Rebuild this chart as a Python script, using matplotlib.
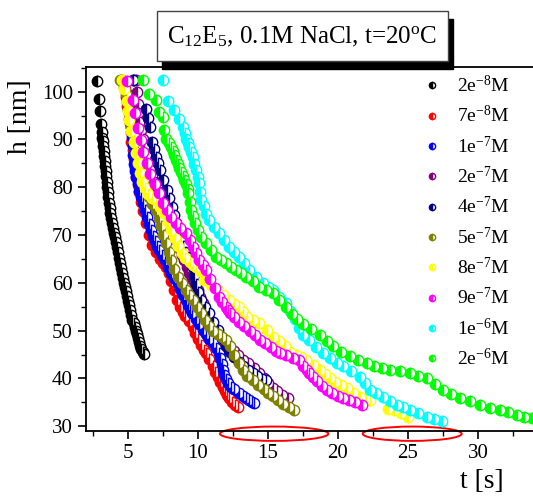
import matplotlib as mpl

mpl.use("Agg")
import matplotlib.pyplot as plt
from matplotlib.patches import Ellipse, Rectangle

plt.rcParams["font.family"] = ["Liberation Serif", "DejaVu Serif"]
plt.rcParams["mathtext.fontset"] = "custom"
plt.rcParams["mathtext.rm"] = "Liberation Serif"
plt.rcParams["mathtext.it"] = "Liberation Serif:italic"

labels = ["2e$^{-8}$M", "7e$^{-8}$M", "1e$^{-7}$M", "2e$^{-7}$M", "4e$^{-7}$M",
          "5e$^{-7}$M", "8e$^{-7}$M", "9e$^{-7}$M", "1e$^{-6}$M", "2e$^{-6}$M"]
colors = ["#000000", "#ff0000", "#0000ff", "#800080", "#000080",
          "#808000", "#ffff00", "#ff00ff", "#00ffff", "#00ff00"]

# 2e-8 M
t1 = [2.79, 2.93, 3.0, 3.07, 3.12, 3.15, 3.19, 3.22, 3.26, 3.3, 3.34, 3.37, 3.4, 3.44,
      3.48, 3.51, 3.55, 3.6, 3.65, 3.7, 3.75, 3.8, 3.86, 3.92, 4.0, 4.07, 4.14, 4.2,
      4.27, 4.34, 4.42, 4.5, 4.58, 4.65, 4.72, 4.79, 4.86, 4.93, 5.0, 5.08, 5.16, 5.24,
      5.32, 5.4, 5.48, 5.56, 5.64, 5.72, 5.8, 5.88, 5.96, 6.05, 6.14]
h1 = [102.2, 98.5, 96.0, 93.3, 91.5, 90.4, 89.6, 88.6, 87.6, 86.5, 85.5, 84.5, 83.5, 82.4,
      81.2, 80.0, 79.0, 77.9, 76.8, 75.7, 74.6, 73.6, 72.5, 71.4, 70.5, 69.6, 68.5, 67.4,
      66.4, 65.3, 64.2, 63.1, 62.0, 61.0, 60.0, 59.2, 58.3, 57.3, 56.3, 55.3, 54.3, 53.3,
      52.3, 51.5, 50.7, 50.0, 49.2, 48.4, 47.6, 46.8, 46.1, 45.5, 45.1]

# 7e-8 M
t2 = [4.75, 4.8, 4.85, 4.95, 5.05, 5.15, 5.2, 5.25, 5.33, 5.4, 5.48, 5.57, 5.7, 5.81,
      5.95, 6.1, 6.3, 6.5, 6.75, 7.0, 7.3, 7.5, 7.71, 7.9, 8.1, 8.31, 8.5, 8.7, 8.9, 9.1,
      9.35, 9.62, 9.8, 10.0, 10.2, 10.4, 10.57, 10.8, 11.05, 11.2, 11.4, 11.6, 11.76,
      11.95, 12.1, 12.24, 12.45, 12.65, 12.83]
h2 = [102.2, 100.5, 98.8, 97.0, 95.5, 93.5, 91.5, 89.5, 87.7, 86.0, 84.0, 82.2, 80.5, 79.0,
      77.0, 75.0, 72.5, 70.0, 68.0, 66.5, 65.0, 64.2, 63.4, 62.0, 60.3, 58.5, 56.5, 55.0,
      54.0, 53.0, 52.0, 50.8, 49.5, 48.2, 47.0, 46.0, 45.3, 44.0, 42.5, 41.3, 40.2, 39.2,
      38.3, 37.3, 36.6, 35.9, 35.0, 34.5, 34.1]

# 1e-7 M
t3 = [4.7, 4.9, 4.98, 5.05, 5.12, 5.21, 5.27, 5.33, 5.39, 5.45, 5.52, 5.6, 5.69, 5.8,
      5.92, 6.05, 6.2, 6.35, 6.5, 6.64, 6.8, 6.95, 7.1, 7.24, 7.45, 7.65, 7.85, 8.07,
      8.3, 8.55, 8.75, 8.95, 9.14, 9.3, 9.45, 9.6, 9.85, 10.1, 10.33, 10.55, 10.8, 11.05,
      11.3, 11.52, 11.6, 11.68, 11.76, 11.88, 12.0, 12.12, 12.35, 12.6, 12.95, 13.2,
      13.45, 13.67, 13.85, 14.02]
h3 = [102.3, 99.5, 97.8, 96.0, 94.3, 92.6, 90.6, 88.6, 86.8, 84.9, 83.5, 82.1, 80.8, 79.2,
      77.9, 76.7, 75.2, 73.7, 72.4, 71.1, 69.9, 68.8, 67.8, 66.9, 65.9, 64.8, 63.3, 62.0,
      61.0, 59.9, 58.8, 57.5, 56.4, 55.3, 54.5, 53.7, 52.5, 51.3, 50.1, 49.2, 48.3, 47.4,
      46.3, 45.3, 44.2, 43.0, 41.8, 40.8, 39.9, 39.0, 38.3, 37.7, 36.9, 36.4, 35.9, 35.5,
      35.1, 34.8]

# 2e-7 M
t4 = [5.4, 5.57, 5.63, 5.69, 5.75, 5.81, 5.93, 6.05, 6.15, 6.27, 6.4, 6.55, 6.7, 6.88,
      7.05, 7.2, 7.4, 7.6, 7.75, 7.9, 8.07, 8.23, 8.4, 8.55, 8.7, 8.86, 9.02, 9.2, 9.38,
      9.58, 9.78, 9.98, 10.15, 10.33, 10.45, 10.57, 10.85, 11.1, 11.4, 11.7, 11.95, 12.24,
      12.55, 12.87, 13.19, 13.6, 14.0, 14.38, 14.7, 15.0, 15.33, 15.65, 16.0, 16.4]
h4 = [102.5, 102.5, 100.0, 97.5, 95.6, 93.7, 92.0, 90.2, 88.4, 86.7, 84.9, 83.6, 82.3, 81.1,
      80.0, 79.0, 78.2, 77.3, 75.7, 74.1, 72.5, 71.1, 69.7, 68.3, 67.1, 65.9, 64.8, 63.4,
      62.0, 60.8, 59.6, 58.5, 57.1, 55.7, 54.3, 52.9, 52.0, 50.8, 49.5, 48.5, 47.6, 46.7,
      45.8, 44.8, 43.9, 43.2, 42.1, 41.1, 40.1, 39.0, 38.0, 37.3, 36.6, 35.9]

# 4e-7 M
t5 = [5.38, 6.26, 6.45, 6.57, 6.69, 6.85, 7.0, 7.15, 7.29, 7.5, 7.76, 7.95, 8.12, 8.3,
      8.45, 8.6, 8.75, 8.9, 9.05, 9.2, 9.4, 9.62, 9.75, 9.88, 10.03, 10.21, 10.5, 10.81,
      11.1, 11.4, 11.7, 12.0, 12.3, 12.6, 12.9, 13.19, 13.55, 13.9, 14.25, 14.55, 14.86]
h5 = [102.4, 96.3, 94.4, 92.7, 89.5, 88.0, 86.4, 85.0, 83.6, 81.5, 79.4, 77.8, 75.9, 74.2,
      72.5, 70.8, 69.2, 67.7, 66.4, 65.5, 64.5, 63.4, 61.5, 59.8, 58.1, 56.4, 55.0, 53.6,
      51.9, 50.2, 48.4, 46.7, 45.6, 44.5, 43.5, 42.5, 41.8, 41.1, 40.5, 39.9, 39.7]

# 5e-7 M
t6 = [4.45, 4.57, 4.72, 4.86, 4.92, 4.98, 5.1, 5.21, 5.33, 5.45, 5.57, 5.69, 5.81, 5.93,
      6.05, 6.17, 6.35, 6.52, 6.75, 7.0, 7.18, 7.36, 7.53, 7.71, 7.9, 8.07, 8.3, 8.55,
      8.85, 9.14, 9.38, 9.62, 9.9, 10.2, 10.5, 10.8, 11.1, 11.4, 11.7, 12.0, 12.3, 12.6,
      12.9, 13.2, 13.5, 13.9, 14.3, 14.7, 15.0, 15.33, 15.7, 16.1, 16.5, 16.88]
h6 = [102.5, 102.5, 101.0, 99.6, 97.8, 96.1, 94.3, 92.6, 91.7, 90.9, 89.1, 87.7, 86.3, 84.2,
      83.0, 81.8, 79.9, 78.0, 76.6, 75.3, 73.5, 71.8, 70.0, 68.3, 66.5, 64.8, 63.0, 61.3,
      59.9, 58.5, 57.4, 56.4, 55.0, 53.6, 52.3, 51.0, 50.0, 49.2, 48.6, 48.1, 46.8, 45.0,
      43.3, 41.8, 40.6, 39.7, 38.7, 37.8, 37.0, 36.3, 35.5, 34.7, 34.0, 33.4]

# 8e-7 M
t7 = [4.6, 4.75, 4.9, 5.0, 5.1, 5.25, 5.4, 5.55, 5.7, 5.85, 6.0, 6.2, 6.45, 6.7, 7.0,
      7.3, 7.6, 7.85, 8.1, 8.35, 8.6, 8.85, 9.1, 9.4, 9.65, 9.86, 10.14, 10.45, 10.9,
      11.4, 11.81, 12.24, 12.6, 12.95, 13.2, 13.48, 13.9, 14.38, 14.9, 15.38, 15.81,
      16.2, 16.57, 17.0, 17.35, 17.71, 18.24, 18.71, 19.05, 19.43, 19.8, 20.2, 20.62,
      21.1, 21.57, 22.0, 22.29, 23.6, 24.0, 24.5, 25.02]
h7 = [102.4, 100.5, 98.0, 96.0, 94.0, 91.8, 89.5, 87.2, 85.0, 83.0, 81.2, 79.8, 78.6, 77.8,
      77.3, 75.9, 74.6, 72.8, 71.0, 69.3, 67.7, 66.3, 65.2, 64.3, 63.8, 63.4, 62.5, 60.6,
      59.5, 58.5, 57.5, 56.4, 55.6, 55.0, 54.0, 52.9, 52.3, 51.6, 50.2, 48.7, 47.9, 46.8,
      45.6, 45.0, 44.5, 43.9, 42.8, 41.8, 40.9, 40.0, 39.3, 38.6, 37.9, 37.0, 36.2, 35.8,
      35.5, 33.6, 33.3, 32.7, 32.0]

# 9e-7 M
t8 = [4.9, 5.33, 5.5, 5.7, 5.9, 6.1, 6.35, 6.6, 6.9, 7.2, 7.5, 7.8, 8.1, 8.4, 8.7, 9.14,
      9.43, 9.62, 9.85, 10.1, 10.35, 10.57, 10.86, 11.2, 11.52, 11.75, 12.0, 12.15, 12.29,
      12.6, 12.95, 13.3, 13.7, 14.1, 14.43, 14.8, 15.2, 15.55, 15.86, 16.3, 16.8, 17.24,
      17.52, 17.76, 17.95, 18.24, 18.5, 18.85, 19.19, 19.6, 20.0, 20.38, 20.8, 21.25, 21.69]
h8 = [102.3, 98.2, 95.5, 92.5, 89.8, 87.3, 85.0, 82.8, 80.7, 78.7, 76.8, 75.2, 73.8, 72.6,
      71.5, 70.4, 69.0, 67.6, 66.2, 64.8, 63.7, 62.7, 60.9, 59.0, 57.1, 56.0, 55.0, 54.3,
      53.6, 52.8, 51.9, 51.0, 50.0, 49.0, 48.1, 47.5, 46.5, 45.8, 45.3, 44.8, 44.3, 43.9,
      42.6, 41.8, 41.1, 40.4, 39.5, 38.5, 37.6, 37.0, 36.4, 35.9, 35.4, 35.0, 34.5]

# 1e-6 M
t9 = [7.48, 7.83, 8.31, 8.67, 8.91, 9.05, 9.14, 9.26, 9.38, 9.5, 9.62, 9.74, 9.86, 9.98,
      10.1, 10.15, 10.21, 10.4, 10.6, 10.81, 11.15, 11.52, 11.88, 12.24, 12.6, 12.95,
      13.3, 13.67, 14.15, 14.62, 15.0, 15.33, 15.8, 16.29, 16.6, 16.9, 17.2, 17.52, 17.9,
      18.4, 18.95, 19.4, 19.9, 20.38, 20.95, 21.57, 21.9, 22.29, 22.75, 23.24, 23.7,
      24.19, 24.65, 25.14, 25.7, 26.33, 26.85, 27.4]
h9 = [102.5, 98.0, 96.1, 94.2, 92.6, 91.3, 90.2, 89.3, 88.4, 87.3, 86.3, 84.9, 83.6, 82.2,
      80.8, 79.0, 77.3, 76.0, 74.5, 73.1, 71.7, 70.4, 69.0, 67.6, 66.5, 65.5, 64.1, 62.7,
      61.3, 59.9, 59.2, 58.5, 57.1, 55.7, 54.2, 52.4, 50.5, 49.0, 48.0, 46.6, 45.3, 44.2,
      43.3, 42.5, 41.5, 40.4, 39.0, 37.6, 36.9, 36.2, 35.3, 34.5, 34.0, 33.4, 32.7, 32.0,
      31.5, 31.0]

# 2e-6 M
t10 = [6.05, 6.52, 7.0, 7.24, 7.48, 7.6, 7.71, 7.9, 8.07, 8.2, 8.31, 8.43, 8.55, 8.67,
       8.79, 8.9, 9.02, 9.14, 9.26, 9.3, 9.4, 9.5, 9.65, 9.8, 9.98, 10.25, 10.57, 10.9,
       11.29, 11.65, 12.0, 12.35, 12.71, 13.07, 13.43, 13.9, 14.38, 14.85, 15.33, 15.8,
       16.29, 16.75, 17.1, 17.52, 18.1, 18.71, 19.2, 19.67, 20.25, 20.86, 21.45, 22.05,
       22.6, 23.15, 23.71, 24.4, 25.14, 25.75, 26.33, 26.9, 27.52, 28.1, 28.71, 29.4,
       30.14, 30.85, 31.57, 32.15, 32.76, 33.3, 33.86, 34.3]
h10 = [102.5, 99.6, 98.2, 95.8, 94.7, 91.9, 90.2, 89.3, 88.4, 87.5, 86.7, 85.8, 84.9, 84.0,
       83.2, 82.3, 81.5, 80.6, 79.7, 78.7, 77.0, 75.3, 73.9, 72.5, 71.1, 69.7, 68.3, 66.9,
       65.5, 64.8, 64.1, 63.4, 62.7, 62.0, 61.3, 60.3, 59.2, 58.5, 57.8, 56.5, 55.0, 53.5,
       52.4, 51.4, 50.3, 49.1, 47.9, 46.7, 45.6, 44.6, 43.9, 43.2, 42.7, 42.2, 41.8, 41.5,
       41.1, 40.6, 40.0, 38.8, 37.6, 36.7, 35.9, 35.2, 34.5, 33.9, 33.4, 32.9, 32.4, 32.0,
       31.7, 31.2]

series_t = [t1, t2, t3, t4, t5, t6, t7, t8, t9, t10]
series_h = [h1, h2, h3, h4, h5, h6, h7, h8, h9, h10]

fig = plt.figure(figsize=(5.33, 4.96), dpi=100)
ax = fig.add_axes([86 / 533, 65 / 496, 454 / 533, 364 / 496])

for t, h, c, lab in zip(series_t, series_h, colors, labels):
    ax.plot(t, h, linestyle="none", marker="o", markersize=7.5, fillstyle="left",
            markerfacecolor=c, markerfacecoloralt="white", markeredgecolor=c,
            markeredgewidth=1.0, label=lab)

ax.set_xlim(2.0, 34.43)
ax.set_ylim(29.0, 105.17)
ax.set_xticks([5, 10, 15, 20, 25, 30])
ax.set_xticks([2.5, 7.5, 12.5, 17.5, 22.5, 27.5, 32.5], minor=True)
ax.set_yticks([30, 40, 50, 60, 70, 80, 90, 100])
ax.set_yticks([35, 45, 55, 65, 75, 85, 95, 105], minor=True)
ax.tick_params(which="major", direction="out", length=6, width=1.2, labelsize=15)
ax.tick_params(which="minor", direction="out", length=3.5, width=1.0)
for s in ax.spines.values():
    s.set_linewidth(1.3)
ax.spines["right"].set_visible(False)

ax.set_xlabel("t [s]", fontsize=20)
ax.set_ylabel("h [nm]", fontsize=20)
ax.xaxis.set_label_coords(0.871, -0.105)
ax.yaxis.set_label_coords(-0.116, 0.863)

ax.legend(loc="upper left", bbox_to_anchor=(422 / 533, 1 - 75 / 496),
          bbox_transform=fig.transFigure, frameon=False, fontsize=14,
          markerscale=0.6, handlelength=1.0, handletextpad=0.8,
          labelspacing=0.47, borderpad=0, borderaxespad=0)

# red ellipses under the axis
for xc, w in [(15.44, 7.74), (25.3, 7.07)]:
    ax.add_patch(Ellipse((xc, 28.43), w, 3.0, fill=False, edgecolor="#ff0000",
                         linewidth=1.4, clip_on=False))

# title box with shadow
fig.patches.append(Rectangle((162 / 533, 1 - 69 / 496), 291 / 533, 50 / 496,
                             transform=fig.transFigure, facecolor="black",
                             edgecolor="black", zorder=5))
fig.patches.append(Rectangle((157 / 533, 1 - 61 / 496), 291 / 533, 50 / 496,
                             transform=fig.transFigure, facecolor="white",
                             edgecolor="#444444", linewidth=1.0, zorder=6))
fig.text(302.5 / 533, 1 - 37 / 496,
         r"C$_\mathrm{12}$E$_\mathrm{5}$, 0.1M NaCl, t=20$^\mathrm{o}$C",
         fontsize=18, ha="center", va="center", zorder=7)

fig.savefig("out.png", dpi=100)
